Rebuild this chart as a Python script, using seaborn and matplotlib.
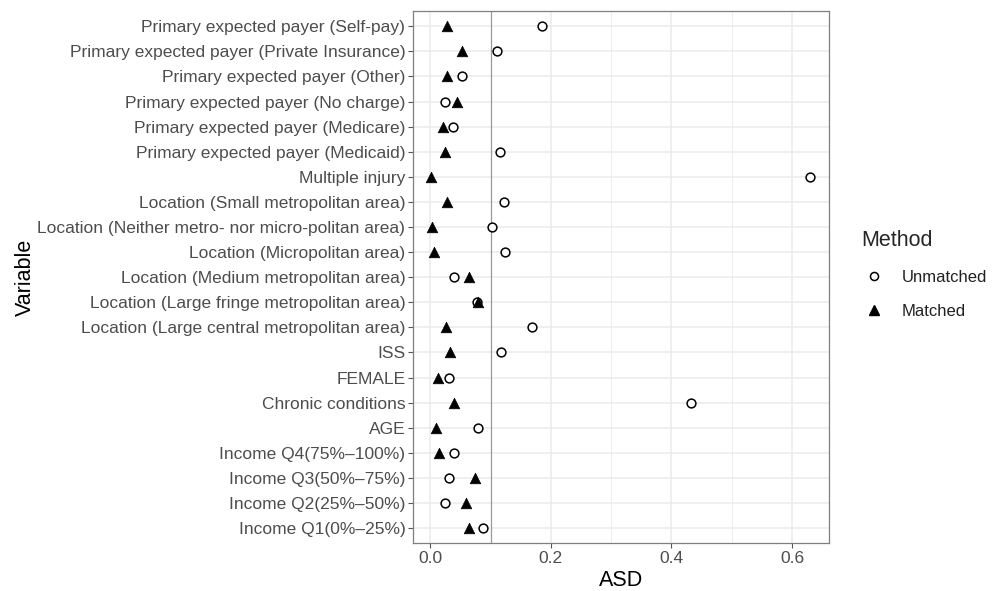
import matplotlib
matplotlib.use("Agg")
import matplotlib.pyplot as plt
import seaborn as sns
import pandas as pd
from matplotlib.lines import Line2D
from matplotlib.ticker import MultipleLocator

variables = [
    "Income Q1(0%\u201325%)",
    "Income Q2(25%\u201350%)",
    "Income Q3(50%\u201375%)",
    "Income Q4(75%\u2013100%)",
    "AGE",
    "Chronic conditions",
    "FEMALE",
    "ISS",
    "Location (Large central metropolitan area)",
    "Location (Large fringe metropolitan area)",
    "Location (Medium metropolitan area)",
    "Location (Micropolitan area)",
    "Location (Neither metro- nor micro-politan area)",
    "Location (Small metropolitan area)",
    "Multiple injury",
    "Primary expected payer (Medicaid)",
    "Primary expected payer (Medicare)",
    "Primary expected payer (No charge)",
    "Primary expected payer (Other)",
    "Primary expected payer (Private Insurance)",
    "Primary expected payer (Self-pay)",
]
unmatched = [0.088, 0.025, 0.031, 0.039, 0.079, 0.433, 0.031, 0.118, 0.168, 0.077,
             0.039, 0.124, 0.103, 0.122, 0.630, 0.115, 0.037, 0.024, 0.053, 0.111, 0.185]
matched = [0.064, 0.059, 0.074, 0.014, 0.009, 0.039, 0.012, 0.033, 0.026, 0.079,
           0.065, 0.006, 0.003, 0.027, 0.002, 0.025, 0.021, 0.045, 0.027, 0.053, 0.027]

df_u = pd.DataFrame({"Variable": variables, "ASD": unmatched})
df_m = pd.DataFrame({"Variable": variables, "ASD": matched})

sns.set_theme(style="whitegrid")
plt.rcParams["font.family"] = ["Liberation Sans", "DejaVu Sans"]

fig = plt.figure(figsize=(9.95, 5.91), dpi=100)
ax = fig.add_axes([0.415, 0.081, 0.418, 0.900])

grid_c = "#EBEBEB"
ax.axvline(0.1, color="#999999", lw=0.9, zorder=1)

sns.scatterplot(data=df_u, x="ASD", y="Variable", marker="o", s=40,
                facecolor="white", edgecolor="black", linewidth=1.1, ax=ax, zorder=3)
sns.scatterplot(data=df_m, x="ASD", y="Variable", marker="^", s=58,
                color="black", edgecolor="black", linewidth=0.5, ax=ax, zorder=4)

ax.set_xlim(-0.0288, 0.661)
ax.set_ylim(-0.6, len(variables) - 0.4)
ax.xaxis.set_major_locator(MultipleLocator(0.2))
ax.xaxis.set_minor_locator(MultipleLocator(0.1))
ax.set_xticks([0.0, 0.2, 0.4, 0.6])
ax.set_xticklabels(["0.0", "0.2", "0.4", "0.6"])

ax.grid(True, which="major", color=grid_c, lw=1.1, zorder=0)
ax.grid(True, which="minor", axis="x", color=grid_c, lw=0.6, zorder=0)
ax.set_axisbelow(True)
for sp in ax.spines.values():
    sp.set_color("#7F7F7F")
    sp.set_linewidth(0.9)
    sp.set_visible(True)

ax.tick_params(axis="both", which="major", length=3.5, width=0.8, color="#555555",
               labelsize=12.5, labelcolor="#4D4D4D", pad=2, left=True, bottom=True)
ax.tick_params(axis="x", which="minor", length=0)
ax.set_xlabel("ASD", fontsize=15.5, color="black", labelpad=3)
ax.set_ylabel("Variable", fontsize=15.5, color="black", labelpad=1)

handles = [
    Line2D([], [], marker="o", ls="", markerfacecolor="white", markeredgecolor="black",
           markersize=5.8, markeredgewidth=1.1, label="Unmatched"),
    Line2D([], [], marker="^", ls="", color="black", markersize=6.8, label="Matched"),
]
leg = fig.legend(handles=handles, title="Method", loc="upper left",
                 bbox_to_anchor=(0.851, 0.637), frameon=False, fontsize=12,
                 title_fontsize=15.5, labelspacing=1.15, handletextpad=0.9,
                 handlelength=1.5)
leg._legend_box.align = "left"
for t in leg.get_texts():
    t.set_color("#222222")

fig.savefig("out.png", dpi=100)
